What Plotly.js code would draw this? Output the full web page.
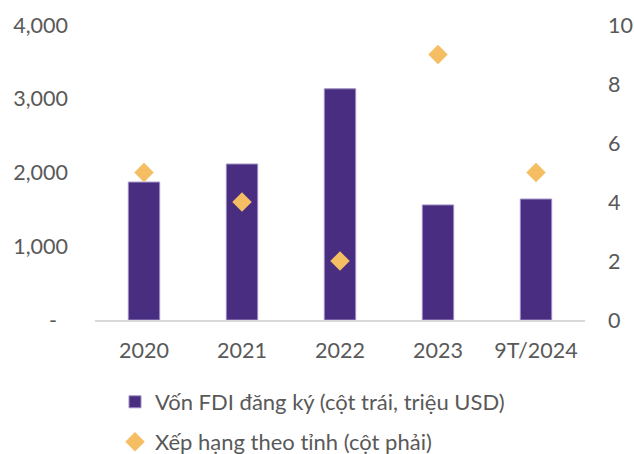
<!DOCTYPE html>
<html>
<head>
<meta charset="utf-8">
<script src="https://cdn.plot.ly/plotly-3.0.1.min.js"></script>
<style>html,body{margin:0;padding:0;background:#fff;}#chart{width:634px;height:454px;}</style>
</head>
<body>
<div id="chart"></div>
<script>
const categories = ['2020', '2021', '2022', '2023', '9T/2024'];
const fdiValues = [1870, 2115, 3135, 1560, 1640];
const rankValues = [5, 4, 2, 9, 5];
const leftTickVals = [0, 1000, 2000, 3000, 4000];
const leftTickText = ['-\u00a0\u00a0', '1,000', '2,000', '3,000', '4,000'];
const rightTickVals = [0, 2, 4, 6, 8, 10];
const seriesNames = ['Vốn FDI đăng ký (cột trái, triệu USD)', 'Xếp hạng theo tỉnh (cột phải)'];

const fontFamily = 'Lato, "Open Sans", sans-serif';
const textColor = '#595959';
const tickSize = 21.5;
const legendSize = 22;

const traces = [
  {
    type: 'bar', x: categories, y: fdiValues, name: seriesNames[0],
    marker: {color: '#482D80', line: {color: '#9E8FC4', width: 1}},
    yaxis: 'y', legend: 'legend', hoverinfo: 'skip'
  },
  {
    type: 'scatter', mode: 'markers', x: categories, y: rankValues, name: seriesNames[1],
    marker: {symbol: 'diamond', size: 15, color: '#F5BE62'},
    yaxis: 'y2', legend: 'legend2', hoverinfo: 'skip'
  }
];

const plotW = 634 - 95 - 49;
const plotH = 454 - 25 - 134;

const layout = {
  width: 634, height: 454,
  margin: {l: 95, r: 49, t: 25, b: 134, autoexpand: false},
  paper_bgcolor: '#fff', plot_bgcolor: '#fff',
  font: {family: fontFamily, size: tickSize, color: textColor},
  bargap: 0.68,
  showlegend: true,
  xaxis: {
    type: 'category', showgrid: false, zeroline: false,
    showline: true, linecolor: '#D9D9D9', linewidth: 1.5,
    ticks: '', ticklabelstandoff: 11, automargin: false,
    tickfont: {family: fontFamily, size: tickSize, color: textColor}
  },
  yaxis: {
    range: [0, 4000], tickvals: leftTickVals, ticktext: leftTickText,
    showgrid: false, zeroline: false, showline: false, ticks: '',
    ticklabelstandoff: 26, automargin: false,
    tickfont: {family: fontFamily, size: tickSize, color: textColor}
  },
  yaxis2: {
    range: [0, 10], tickvals: rightTickVals, overlaying: 'y', side: 'right',
    showgrid: false, zeroline: false, showline: false, ticks: '',
    ticklabelstandoff: 22, automargin: false,
    tickfont: {family: fontFamily, size: tickSize, color: textColor}
  },
  legend: {
    x: (115 - 95) / plotW, y: (320 - 402) / plotH, yanchor: 'middle', orientation: 'v',
    font: {family: fontFamily, size: legendSize, color: textColor}, bgcolor: 'rgba(0,0,0,0)'
  },
  legend2: {
    x: (115 - 95) / plotW, y: (320 - 442) / plotH, yanchor: 'middle', orientation: 'v',
    font: {family: fontFamily, size: legendSize, color: textColor}, bgcolor: 'rgba(0,0,0,0)'
  }
};

Plotly.newPlot('chart', traces, layout, {staticPlot: true, displayModeBar: false});
</script>
</body>
</html>
